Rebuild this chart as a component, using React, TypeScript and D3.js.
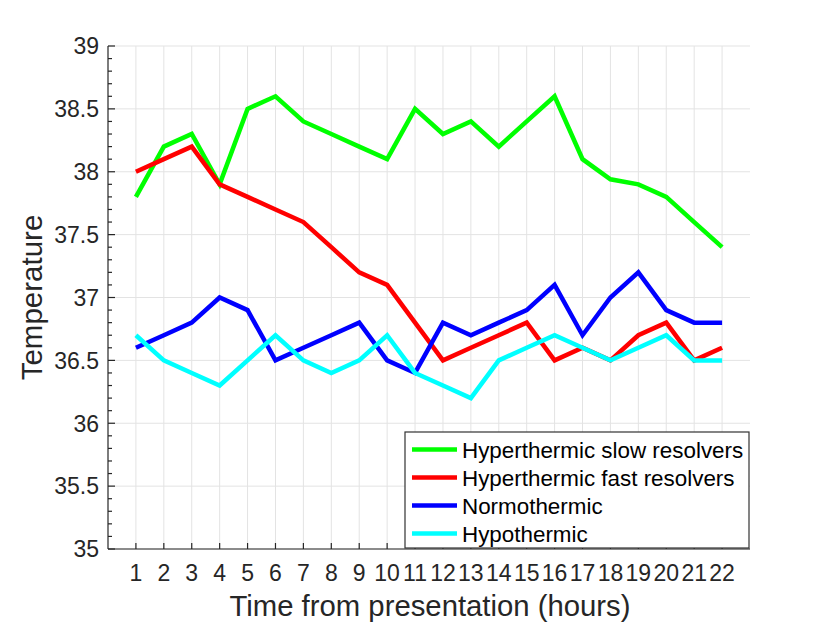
import * as d3 from "d3";
import React from "react";

const hours: number[] = d3.range(1, 23);

const slowResolvers = [37.8, 38.2, 38.3, 37.9, 38.5, 38.6, 38.4, 38.3, 38.2, 38.1, 38.5, 38.3, 38.4, 38.2, 38.4, 38.6, 38.1, 37.94, 37.9, 37.8, 37.6, 37.4];
const fastResolvers = [38.0, 38.1, 38.2, 37.9, 37.8, 37.7, 37.6, 37.4, 37.2, 37.1, 36.8, 36.5, 36.6, 36.7, 36.8, 36.5, 36.6, 36.5, 36.7, 36.8, 36.5, 36.6];
const normothermic = [36.6, 36.7, 36.8, 37.0, 36.9, 36.5, 36.6, 36.7, 36.8, 36.5, 36.4, 36.8, 36.7, 36.8, 36.9, 37.1, 36.7, 37.0, 37.2, 36.9, 36.8, 36.8];
const hypothermic = [36.7, 36.5, 36.4, 36.3, 36.5, 36.7, 36.5, 36.4, 36.5, 36.7, 36.4, 36.3, 36.2, 36.5, 36.6, 36.7, 36.6, 36.5, 36.6, 36.7, 36.5, 36.5];

const seriesNames = [
  "Hyperthermic slow resolvers",
  "Hyperthermic fast resolvers",
  "Normothermic",
  "Hypothermic",
];
const seriesValues = [slowResolvers, fastResolvers, normothermic, hypothermic];
const seriesColors = ["#00ff00", "#ff0000", "#0000ff", "#00ffff"];

const yMajorTicks = [35, 35.5, 36, 36.5, 37, 37.5, 38, 38.5, 39];

const font = "'Liberation Sans', Arial, sans-serif";
const textColor = "#262626";

const App: React.FC = () => {
  const width = 830;
  const height = 623;
  const left = 108;
  const right = 750;
  const top = 46;
  const bottom = 549;

  const x = d3.scaleLinear().domain([0, 23]).range([left, right]);
  const y = d3.scaleLinear().domain([35, 39]).range([bottom, top]);

  const yMinor = d3.range(350, 391).map((v) => v / 10);

  const line = d3
    .line<number>()
    .x((_, i) => x(hours[i]))
    .y((d) => y(d));

  // legend box
  const lgX = 405;
  const lgY = 432;
  const lgW = 344;
  const lgH = 116;
  const rowGap = 28;

  return (
    <svg
      width={width}
      height={height}
      style={{ position: "absolute", left: 0, top: 0, background: "#fff" }}
    >
      {/* grid */}
      <g stroke="#e3e3e3" strokeWidth={1}>
        {hours.map((h) => (
          <line key={"gx" + h} x1={x(h)} x2={x(h)} y1={top} y2={bottom} />
        ))}
        {yMajorTicks.map((t) => (
          <line key={"gy" + t} x1={left} x2={right} y1={y(t)} y2={y(t)} />
        ))}
      </g>

      {/* axes */}
      <g stroke={textColor} strokeWidth={1.2}>
        <line x1={left} x2={left} y1={top} y2={bottom} />
        <line x1={left} x2={right} y1={bottom} y2={bottom} />
        {yMinor.map((t) => {
          const major = Math.abs(t * 2 - Math.round(t * 2)) < 1e-6;
          return (
            <line
              key={"yt" + t}
              x1={left}
              x2={left + (major ? 7 : 4)}
              y1={y(t)}
              y2={y(t)}
            />
          );
        })}
        {hours.map((h) => (
          <line key={"xt" + h} x1={x(h)} x2={x(h)} y1={bottom} y2={bottom - 6} />
        ))}
      </g>

      {/* tick labels */}
      <g fontFamily={font} fontSize={23} fill={textColor}>
        {yMajorTicks.map((t) => (
          <text key={"yl" + t} x={99} y={y(t)} dy="0.36em" textAnchor="end">
            {t}
          </text>
        ))}
        {hours.map((h) => (
          <text key={"xl" + h} x={x(h)} y={581} textAnchor="middle">
            {h}
          </text>
        ))}
      </g>

      {/* axis titles */}
      <text
        x={(left + right) / 2 + 1}
        y={616}
        textAnchor="middle"
        fontFamily={font}
        fontSize={29.3}
        fill={textColor}
      >
        Time from presentation (hours)
      </text>
      <text
        transform={`translate(42, ${(top + bottom) / 2}) rotate(-90)`}
        textAnchor="middle"
        fontFamily={font}
        fontSize={29.5}
        fill={textColor}
      >
        Temperature
      </text>

      {/* series */}
      {seriesValues.map((vals, i) => (
        <path
          key={"s" + i}
          d={line(vals) ?? ""}
          fill="none"
          stroke={seriesColors[i]}
          strokeWidth={4.5}
          strokeLinejoin="miter"
        />
      ))}

      {/* legend */}
      <rect
        x={lgX}
        y={lgY}
        width={lgW}
        height={lgH}
        fill="#fff"
        stroke="#333"
        strokeWidth={1.2}
      />
      {seriesNames.map((name, i) => {
        const cy = lgY + 17.5 + i * rowGap;
        return (
          <g key={"lg" + i}>
            <line
              x1={lgX + 7}
              x2={lgX + 52}
              y1={cy}
              y2={cy}
              stroke={seriesColors[i]}
              strokeWidth={4.5}
            />
            <text
              x={lgX + 57}
              y={cy}
              dy="0.36em"
              fontFamily={font}
              fontSize={22.4}
              fill="#000"
            >
              {name}
            </text>
          </g>
        );
      })}
    </svg>
  );
};

export default App;
